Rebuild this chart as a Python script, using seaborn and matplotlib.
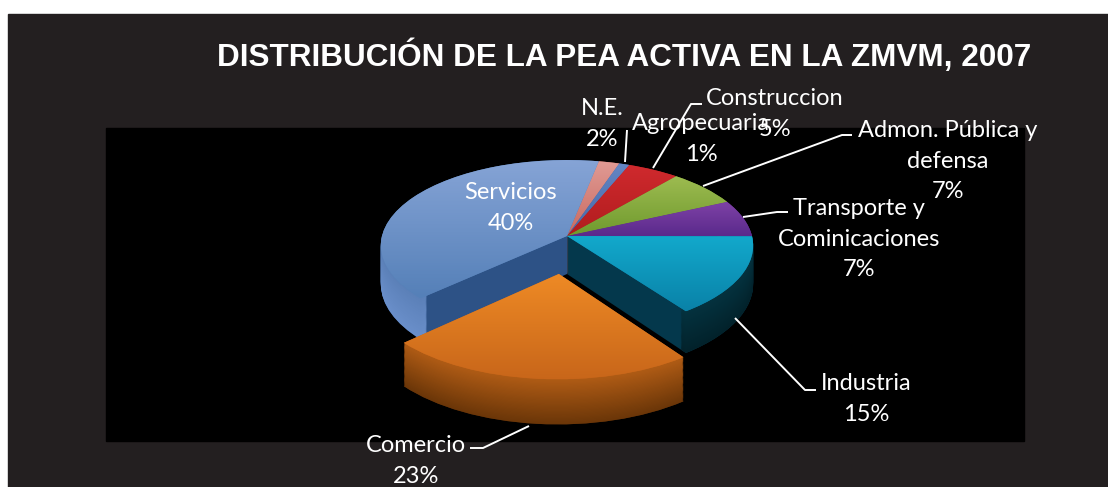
import numpy as np
import matplotlib
matplotlib.use("Agg")
import matplotlib.pyplot as plt
import seaborn as sns
from matplotlib.patches import Rectangle
from matplotlib.transforms import Transform

# datos de la grafica
sectores = ["N.E.", "Agropecuaria", "Construccion", "Admon. Pública y\ndefensa",
            "Transporte y\nCominicaciones", "Industria", "Comercio", "Servicios"]
valores = [2, 1, 5, 7, 7, 15, 23, 40]
separacion = [0, 0, 0, 0, 0, 0, 0.43, 0]

# colores: cara superior (arriba, abajo), corte y pared exterior (arriba, abajo)
cara_a = ["#e09a94", "#6486c4", "#d02a2e", "#9dbb50", "#7f42a6", "#12a9cc", "#ee8a25", "#86a4d6"]
cara_b = ["#c96a60", "#4568a8", "#b01c1e", "#6f9a2e", "#5a2a8c", "#0a82a8", "#c8661a", "#5580b8"]
corte = ["#8a4a45", "#2f4a78", "#6e1214", "#4c6a1e", "#3a1a5c", "#04384c", "#4f2808", "#2d5286"]
pared_a = ["#a85a55", "#3f5f96", "#8a1a1c", "#5f8226", "#4a2272", "#04323f", "#b05c15", "#5b80b8"]
pared_b = ["#a85a55", "#3f5f96", "#8a1a1c", "#5f8226", "#4a2272", "#02222b", "#6b3608", "#6a8fca"]

# texto: centro de cada etiqueta en pixeles de la imagen
textos = ["N.E.\n2%", "Agropecuaria\n1%", "Construccion\n5%", "Admon. Pública y\ndefensa\n7%",
          "Transporte y\nCominicaciones\n7%", "Industria\n15%", "Comercio\n23%", "Servicios\n40%"]
pos_x = [602, 701, 775, 948, 859, 866, 416, 511]
pos_y = [124, 139, 114, 161, 239, 399, 461, 208]
guias = [
    [(625, 162), (627, 130)],
    [(653, 168), (691, 104), (702, 104)],
    [(703, 186), (842, 135), (852, 135)],
    [(743, 217), (777, 212), (788, 212)],
    [(735, 318), (805, 390), (816, 390)],
    [(529, 426), (483, 448), (470, 448)],
]

sns.set_theme(style="white")
plt.rcParams["font.family"] = ["Lato", "DejaVu Sans"]


class Perspectiva(Transform):
    # pasa el circulo unitario a pixeles, con el frente mas grande que el fondo
    input_dims = 2
    output_dims = 2

    def __init__(self, baja=0):
        super().__init__()
        self.baja = baja

    def transform_non_affine(self, xy):
        xy = np.asarray(xy, dtype=float)
        w = 1 + 0.111 * xy[:, 1]
        return np.column_stack([567 + 185 * xy[:, 0] / w,
                                236 - 84.4 * xy[:, 1] / w + self.baja / w])


def capa(ax, colores, baja, z, **props):
    wedges, _ = ax.pie(valores, startangle=79, counterclock=False, explode=separacion,
                       colors=colores, wedgeprops=dict(linewidth=0, **props))
    for w, sep in zip(wedges, separacion):
        w.set_transform(Perspectiva(baja) + ax.transData)
        w.set_zorder(z + (5 if sep else 0))
    return wedges


fig = plt.figure(figsize=(11.08, 4.87), dpi=100, facecolor="white")
ax = fig.add_axes([0, 0, 1, 1])

ax.add_patch(Rectangle((8, 14), 1100, 480, color="#231f20", zorder=0))
ax.add_patch(Rectangle((106, 128), 918, 313, color="black", zorder=0.5))

# grosor de la tarta: capas apiladas de abajo hacia arriba
prof = 38
for k in range(prof, 0, -1):
    capa(ax, corte, k, 2 + (prof - k) * 0.001)
    mezcla = [sns.blend_palette([a, b], prof + 1)[k] for a, b in zip(pared_a, pared_b)]
    capa(ax, mezcla, k, 3 + (prof - k) * 0.001, width=0.04)

# cara superior con degradado
tapa = capa(ax, cara_b, 0, 4)
for w, a, b, sep in zip(tapa, cara_a, cara_b, separacion):
    esquinas = Perspectiva().transform(w.get_path().vertices)
    grad = np.linspace(0, 1, 64).reshape(-1, 1)
    im = ax.imshow(grad, cmap=sns.blend_palette([a, b], as_cmap=True), aspect="auto",
                   extent=(esquinas[:, 0].min(), esquinas[:, 0].max(),
                           esquinas[:, 1].max(), esquinas[:, 1].min()),
                   zorder=4.5 + (5 if sep else 0))
    im.set_clip_path(w)

for g in guias:
    xs, ys = zip(*g)
    ax.plot(xs, ys, color="white", lw=1.4, zorder=15, solid_capstyle="butt")

for t, x, y in zip(textos, pos_x, pos_y):
    ax.text(x, y, t, color="white", fontsize=17, ha="center", va="center",
            linespacing=1.56, zorder=20)

ax.text(624, 56, "DISTRIBUCIÓN DE LA PEA ACTIVA EN LA ZMVM, 2007", color="white",
        fontsize=22.7, fontweight="bold", family=["Liberation Sans"], ha="center", va="center", zorder=20)

ax.set_aspect("auto")
ax.set_xlim(0, 1108)
ax.set_ylim(487, 0)
ax.axis("off")

plt.savefig("out.png", dpi=100)
